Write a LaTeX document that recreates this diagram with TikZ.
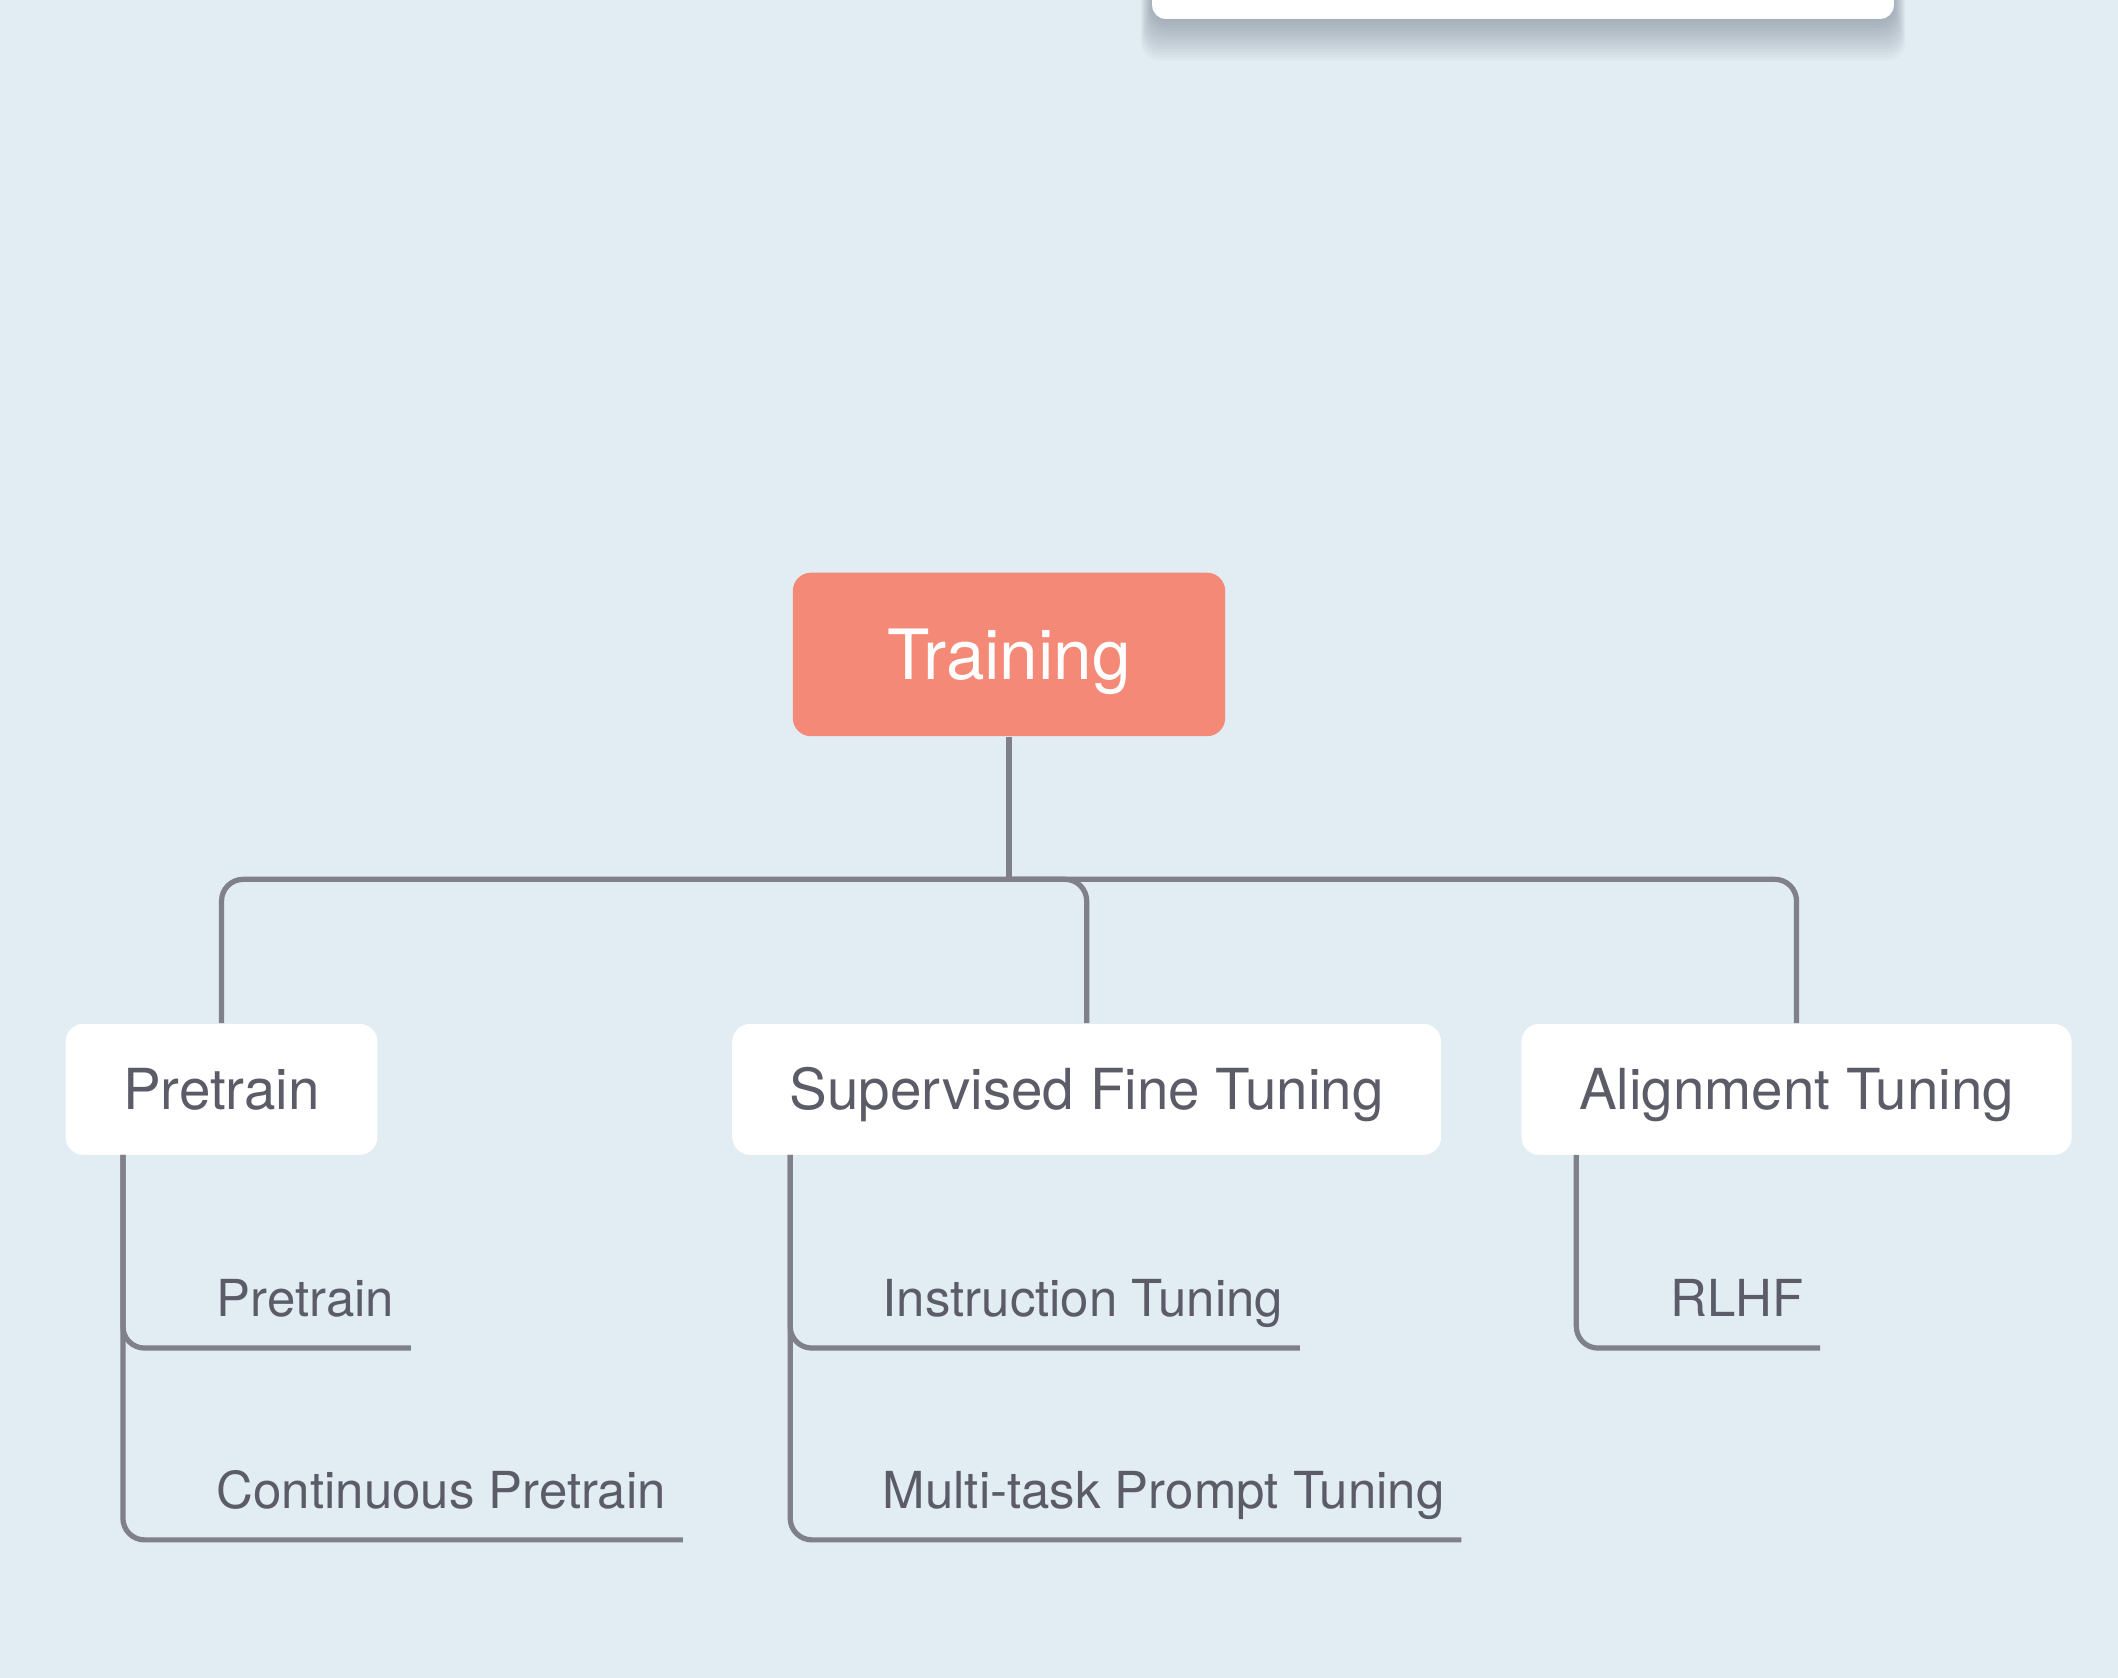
\documentclass[tikz,border=0pt]{standalone}
\usepackage{fontspec}
\setmainfont{TeX Gyre Heros}

\definecolor{bgblue}{RGB}{225,236,243}
\definecolor{salmon}{RGB}{245,137,119}
\definecolor{linkgrey}{RGB}{128,128,138}
\definecolor{textgrey}{RGB}{92,92,104}
\definecolor{shadowgrey}{RGB}{90,100,115}

\tikzset{every picture/.style={line width=0.75pt}}
\tikzset{
  rootbox/.style={fill=salmon, rounded corners=10pt, minimum width=240pt, minimum height=90.75pt,
    inner sep=0pt, text=white, font=\fontsize{38.5}{41}\selectfont, text height=27.7pt, text depth=0pt},
  topicbox/.style={fill=white, rounded corners=10pt, minimum height=72.75pt, inner xsep=32pt,
    inner ysep=0pt, text=textgrey, font=\fontsize{31.4}{34}\selectfont, text height=22.6pt, text depth=0pt},
  subtopic/.style={anchor=south west, inner xsep=9pt, inner ysep=0pt, text=textgrey,
    font=\fontsize{28.3}{30}\selectfont, text depth=17pt},
  link/.style={draw=linkgrey, line width=2.9pt, rounded corners=12pt},
}

\begin{document}
\begin{tikzpicture}[x=0.75pt,y=0.75pt,yscale=-1,xscale=1]
%Background
\fill[bgblue] (0,0) rectangle (1568,1242);
\useasboundingbox (0,0) rectangle (1568,1242);

%Shadow of the rounded rectangle (cut at the top)
\foreach \s in {1,...,14}
  \fill[shadowgrey, opacity=0.034, rounded corners=10pt] (853-0.6*\s,-30) rectangle (1402+0.6*\s,14+2.2*\s);
%Shape: Rounded Rectangle (cut at the top)
\fill[white, rounded corners=7.5pt] (853,-30) rectangle (1402,14);

% Root Node
\node[rootbox] (train) at (747,484.5) {Training};

% Topic Nodes
\node[topicbox] (pre) at (164,806.5) {Pretrain};
\node[topicbox] (sft) at (804.5,806.5) {Supervised Fine Tuning};
\node[topicbox] (align) at (1330,806.5) {Alignment Tuning};

% Subtopic Nodes
\node[subtopic] (pre1) at (148,998) {Pretrain};
\node[subtopic] (pre2) at (148,1140) {Continuous Pretrain};
\node[subtopic] (sft1) at (641,998) {Instruction Tuning};
\node[subtopic] (sft2) at (641,1140) {Multi-task Prompt Tuning};
\node[subtopic] (align1) at (1224,998) {RLHF};

%Straight Lines
\coordinate (hub) at (747,651);
\draw[link] (train.south) -- (hub);
\draw[link] (hub) -| (pre.north);
\draw[link] (hub) -| (sft.north);
\draw[link] (hub) -| (align.north);

%Stems of the subtopics
\coordinate (pre-stem) at (91,855);
\coordinate (sft-stem) at (585,855);
\coordinate (align-stem) at (1167,855);
\draw[link] (pre-stem) |- (pre1.south east);
\draw[link] (pre-stem) |- (pre2.south east);
\draw[link] (sft-stem) |- (sft1.south east);
\draw[link] (sft-stem) |- (sft2.south east);
\draw[link] (align-stem) |- (align1.south east);

\end{tikzpicture}
\end{document}
